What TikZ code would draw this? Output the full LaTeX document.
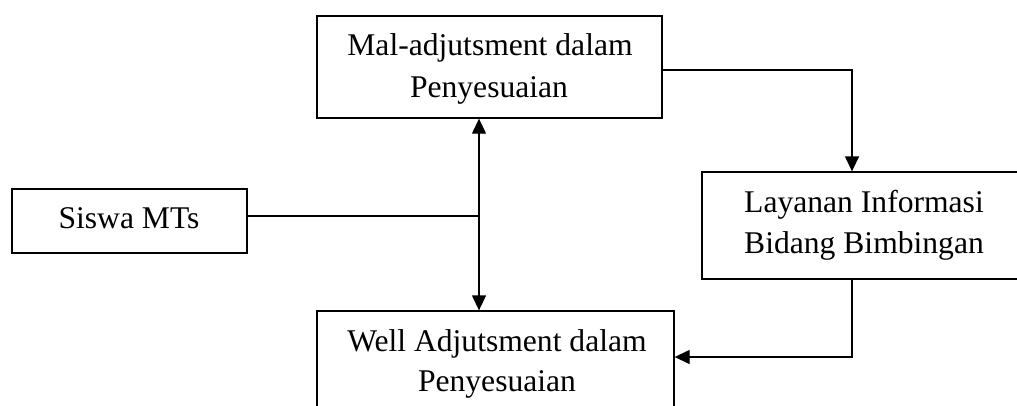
\documentclass[tikz,border=0pt]{standalone}
\usepackage{fontspec}
\setmainfont{Liberation Serif}
\usetikzlibrary{arrows.meta,calc}
\begin{document}
\begin{tikzpicture}[x=0.75pt,y=-0.75pt,
  box/.style={draw=black,line width=1pt,inner sep=0pt},
  txt/.style={anchor=base,inner sep=0pt,font=\fontsize{23.7pt}{31.5pt}\selectfont},
  conn/.style={draw=black,line width=1pt},
  arr/.style={conn,-{Triangle[width=10.5pt,length=11.25pt]}}]
\useasboundingbox (0,0) rectangle (1017,405);
\clip (0,0) rectangle (1017,405);
% boxes
\node[box,minimum width=258.75pt,minimum height=76.5pt] (mal) at (489.5,67) {};
\node[box,minimum width=176.25pt,minimum height=48pt] (sis) at (129.5,221) {};
\node[box,minimum width=243pt,minimum height=80.25pt] (lay) at (864,225.5) {};
\node[box,minimum width=267.75pt,minimum height=76.5pt] (wel) at (495.5,362) {};
% texts
\node[txt] (mal1) at (490,55) {Mal-adjutsment dalam};
\node[txt] (mal2) at (489,97) {Penyesuaian};
\node[txt] (sis1) at (129,228) {Siswa MTs};
\node[txt] (lay1) at (864,212) {Layanan Informasi};
\node[txt] (lay2) at (864,253) {Bidang Bimbingan};
\node[txt] (wel1) at (497,351) {Well Adjutsment dalam};
\node[txt] (wel2) at (497,391) {Penyesuaian};
% connectors
\coordinate (j) at (479,216);
\draw[conn] (sis.east |- j) -- (j);
\draw[arr] (j) -- (j |- mal.south);
\draw[arr] (j) -- (j |- wel.north);
\draw[arr] ($(mal.east)+(0,3)$) -| ($(lay.north)+(-12,0)$);
\draw[arr] ($(lay.south)+(-12,0)$) |- ($(wel.east)+(0,-5)$);
\end{tikzpicture}
\end{document}
